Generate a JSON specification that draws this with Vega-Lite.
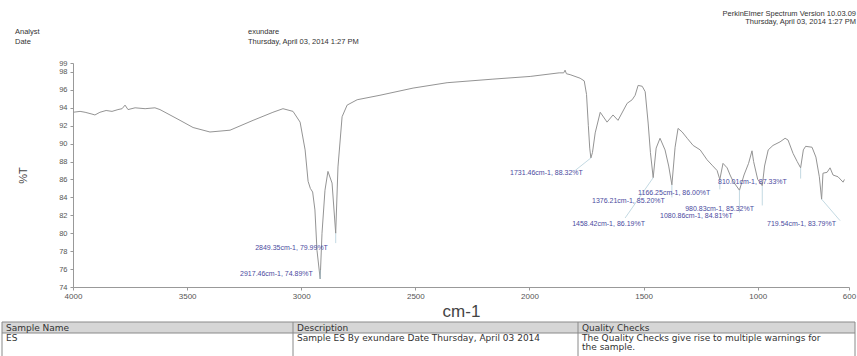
{
  "$schema": "https://vega.github.io/schema/vega-lite/v6.json",
  "width": 776,
  "height": 224,
  "autosize": {"type": "none"},
  "padding": {"left": 73, "top": 63, "right": 8, "bottom": 69},
  "background": "white",
  "config": {"view": {"stroke": null}, "font": "Liberation Sans", "axis": {"labelOverlap": false, "labelFlush": false}},
  "datasets": {
    "spectrum": [
      {"wn": 4000, "t": 93.5}, {"wn": 3969, "t": 93.6}, {"wn": 3947, "t": 93.5}, {"wn": 3917, "t": 93.3},
      {"wn": 3904, "t": 93.2}, {"wn": 3882, "t": 93.5}, {"wn": 3855, "t": 93.7}, {"wn": 3829, "t": 93.6},
      {"wn": 3803, "t": 93.8}, {"wn": 3785, "t": 93.9}, {"wn": 3772, "t": 94.3}, {"wn": 3759, "t": 93.8},
      {"wn": 3728, "t": 94.0}, {"wn": 3684, "t": 93.9}, {"wn": 3641, "t": 94.0}, {"wn": 3619, "t": 93.8},
      {"wn": 3575, "t": 93.2}, {"wn": 3531, "t": 92.6}, {"wn": 3474, "t": 91.8}, {"wn": 3400, "t": 91.3},
      {"wn": 3312, "t": 91.5}, {"wn": 3211, "t": 92.6}, {"wn": 3124, "t": 93.5}, {"wn": 3080, "t": 93.9},
      {"wn": 3036, "t": 93.6}, {"wn": 3005, "t": 92.4}, {"wn": 2983, "t": 89.3}, {"wn": 2970, "t": 85.8},
      {"wn": 2960, "t": 85.0}, {"wn": 2950, "t": 84.6}, {"wn": 2940, "t": 82.6}, {"wn": 2931, "t": 78.1},
      {"wn": 2917, "t": 74.9}, {"wn": 2909, "t": 80.0}, {"wn": 2896, "t": 84.8}, {"wn": 2883, "t": 86.9},
      {"wn": 2865, "t": 85.6}, {"wn": 2849, "t": 80.0}, {"wn": 2839, "t": 87.4}, {"wn": 2821, "t": 93.0},
      {"wn": 2799, "t": 94.3}, {"wn": 2755, "t": 94.9}, {"wn": 2655, "t": 95.4}, {"wn": 2510, "t": 96.2},
      {"wn": 2361, "t": 96.8}, {"wn": 2160, "t": 97.2}, {"wn": 1997, "t": 97.5}, {"wn": 1870, "t": 97.9},
      {"wn": 1850, "t": 97.9}, {"wn": 1844, "t": 98.2}, {"wn": 1838, "t": 97.8}, {"wn": 1822, "t": 97.7},
      {"wn": 1778, "t": 97.3}, {"wn": 1760, "t": 97.0}, {"wn": 1750, "t": 95.5}, {"wn": 1742, "t": 92.0},
      {"wn": 1736, "t": 89.5}, {"wn": 1731, "t": 88.4}, {"wn": 1724, "t": 89.0}, {"wn": 1712, "t": 91.2},
      {"wn": 1690, "t": 93.5}, {"wn": 1660, "t": 92.4}, {"wn": 1634, "t": 93.2}, {"wn": 1612, "t": 92.6},
      {"wn": 1572, "t": 94.5}, {"wn": 1550, "t": 94.9}, {"wn": 1537, "t": 95.4}, {"wn": 1524, "t": 96.5},
      {"wn": 1506, "t": 96.4}, {"wn": 1493, "t": 95.8}, {"wn": 1480, "t": 92.3}, {"wn": 1470, "t": 89.0},
      {"wn": 1458, "t": 86.2}, {"wn": 1445, "t": 89.5}, {"wn": 1428, "t": 90.6}, {"wn": 1406, "t": 89.3},
      {"wn": 1390, "t": 87.5}, {"wn": 1376, "t": 85.4}, {"wn": 1362, "t": 89.6}, {"wn": 1349, "t": 91.7},
      {"wn": 1331, "t": 91.3}, {"wn": 1309, "t": 90.6}, {"wn": 1283, "t": 89.8}, {"wn": 1252, "t": 89.3},
      {"wn": 1222, "t": 88.2}, {"wn": 1200, "t": 87.6}, {"wn": 1178, "t": 87.0}, {"wn": 1166, "t": 86.0},
      {"wn": 1152, "t": 87.8}, {"wn": 1134, "t": 87.3}, {"wn": 1121, "t": 86.5}, {"wn": 1108, "t": 85.8},
      {"wn": 1080, "t": 84.8}, {"wn": 1060, "t": 86.5}, {"wn": 1040, "t": 87.8}, {"wn": 1025, "t": 89.2},
      {"wn": 1018, "t": 88.0}, {"wn": 1000, "t": 86.0}, {"wn": 980, "t": 85.3}, {"wn": 970, "t": 87.5},
      {"wn": 954, "t": 89.3}, {"wn": 933, "t": 89.8}, {"wn": 902, "t": 90.2}, {"wn": 880, "t": 90.6},
      {"wn": 867, "t": 90.4}, {"wn": 845, "t": 88.9}, {"wn": 827, "t": 88.0}, {"wn": 812, "t": 87.3},
      {"wn": 800, "t": 89.3}, {"wn": 790, "t": 89.7}, {"wn": 762, "t": 89.6}, {"wn": 745, "t": 88.5},
      {"wn": 730, "t": 86.3}, {"wn": 720, "t": 83.8}, {"wn": 714, "t": 86.7}, {"wn": 696, "t": 86.8},
      {"wn": 683, "t": 87.3}, {"wn": 670, "t": 86.5}, {"wn": 648, "t": 86.3}, {"wn": 626, "t": 85.7},
      {"wn": 620, "t": 86.0}
    ],
    "peaks": [
      {"wn": 2917, "t": 74.9, "awn": 2917, "at": 75.9, "lwn": 3268, "lt": 75.4, "label": "2917.46cm-1, 74.89%T"},
      {"wn": 2849, "t": 80.0, "awn": 2849, "at": 78.9, "lwn": 3202, "lt": 78.4, "label": "2849.35cm-1, 79.99%T"},
      {"wn": 1731, "t": 88.4, "awn": 1800, "at": 87.0, "lwn": 2085, "lt": 86.7, "label": "1731.46cm-1, 88.32%T"},
      {"wn": 1458, "t": 86.2, "awn": 1581, "at": 81.7, "lwn": 1813, "lt": 81.0, "label": "1458.42cm-1, 86.19%T"},
      {"wn": 1376, "t": 85.4, "awn": 1376, "at": 84.0, "lwn": 1726, "lt": 83.6, "label": "1376.21cm-1, 85.20%T"},
      {"wn": 1166, "t": 86.0, "awn": 1166, "at": 84.9, "lwn": 1524, "lt": 84.5, "label": "1166.25cm-1, 86.00%T"},
      {"wn": 1080, "t": 84.8, "awn": 1080, "at": 82.3, "lwn": 1428, "lt": 81.9, "label": "1080.86cm-1, 84.81%T"},
      {"wn": 980, "t": 85.3, "awn": 980, "at": 83.1, "lwn": 1318, "lt": 82.7, "label": "980.83cm-1, 85.32%T"},
      {"wn": 812, "t": 87.3, "awn": 812, "at": 86.1, "lwn": 1174, "lt": 85.7, "label": "810.01cm-1, 87.33%T"},
      {"wn": 720, "t": 83.8, "awn": 639, "at": 81.4, "lwn": 959, "lt": 81.0, "label": "719.54cm-1, 83.79%T"}
    ],
    "page": [
      {"kind": "fill", "c0": 0, "c1": 8, "r0": 4, "r1": 6},
      {"kind": "line", "c0": 0, "c1": 8, "r0": 4, "r1": 4},
      {"kind": "line", "c0": 0, "c1": 8, "r0": 6, "r1": 6},
      {"kind": "line", "c0": 0, "c1": 0, "r0": 4, "r1": 9},
      {"kind": "line", "c0": 4, "c1": 4, "r0": 4, "r1": 9},
      {"kind": "line", "c0": 6, "c1": 6, "r0": 4, "r1": 9},
      {"kind": "line", "c0": 8, "c1": 8, "r0": 4, "r1": 9},
      {"kind": "head", "c0": 2, "r0": 2, "text": "Analyst"},
      {"kind": "head", "c0": 2, "r0": 3, "text": "Date"},
      {"kind": "head", "c0": 3, "r0": 2, "text": "exundare"},
      {"kind": "head", "c0": 3, "r0": 3, "text": "Thursday, April 03, 2014 1:27 PM"},
      {"kind": "rtext", "c0": 9, "r0": 0, "text": "PerkinElmer Spectrum Version 10.03.09"},
      {"kind": "rtext", "c0": 9, "r0": 1, "text": "Thursday, April 03, 2014 1:27 PM"},
      {"kind": "text", "c0": 1, "r0": 5, "text": "Sample Name"},
      {"kind": "text", "c0": 5, "r0": 5, "text": "Description"},
      {"kind": "text", "c0": 7, "r0": 5, "text": "Quality Checks"},
      {"kind": "text", "c0": 1, "r0": 7, "text": "ES"},
      {"kind": "text", "c0": 5, "r0": 7, "text": "Sample ES By exundare Date Thursday, April 03 2014"},
      {"kind": "text", "c0": 7, "r0": 7, "text": "The Quality Checks give rise to multiple warnings for"},
      {"kind": "text", "c0": 7, "r0": 8, "text": "the sample."}
    ]
  },
  "layer": [
    {
      "layer": [
        {
          "data": {"name": "spectrum"},
          "mark": {"type": "line", "color": "#949494", "strokeWidth": 1, "clip": true},
          "encoding": {
            "x": {
              "field": "wn", "type": "quantitative",
              "scale": {"domain": [600, 4000], "reverse": true, "nice": false, "zero": false},
              "axis": {
                "values": [4000, 3500, 3000, 2500, 2000, 1500, 1000, 600], "tickCount": 40,
                "format": "d", "title": "cm-1", "titleFontSize": 17, "titleFontWeight": "normal",
                "titleColor": "#444", "titlePadding": 3, "labelFontSize": 8, "labelColor": "#555",
                "labelFlush": false, "labelOverlap": false, "labelPadding": 2,
                "domainColor": "#999", "tickColor": "#999", "tickSize": 3, "grid": false
              }
            },
            "y": {
              "field": "t", "type": "quantitative",
              "scale": {"domain": [74, 99], "nice": false, "zero": false},
              "axis": {
                "values": [74, 76, 78, 80, 82, 84, 86, 88, 90, 92, 94, 96, 98, 99], "tickCount": 40,
                "format": "d",
                "title": "%T", "titleFontSize": 11, "titleFontWeight": "normal", "titleColor": "#444",
                "titlePadding": 30, "labelFontSize": 7.5, "labelColor": "#555", "labelOverlap": false,
                "labelFlush": false, "labelPadding": 3,
                "domainColor": "#999", "tickColor": "#999", "tickSize": 3, "grid": false
              }
            }
          }
        },
        {
          "data": {"name": "peaks"},
          "mark": {"type": "rule", "color": "#a9c9d6", "strokeWidth": 0.7},
          "encoding": {
            "x": {"field": "wn", "type": "quantitative"},
            "y": {"field": "t", "type": "quantitative"},
            "x2": {"field": "awn"},
            "y2": {"field": "at"}
          }
        },
        {
          "data": {"name": "peaks"},
          "mark": {"type": "text", "align": "left", "baseline": "middle", "fontSize": 7, "color": "#4b4ba0"},
          "encoding": {
            "x": {"field": "lwn", "type": "quantitative"},
            "y": {"field": "lt", "type": "quantitative"},
            "text": {"field": "label"}
          }
        }
      ]
    },
    {
      "data": {"name": "page"},
      "layer": [
        {
          "transform": [{"filter": "datum.kind === 'fill'"}],
          "mark": {"type": "rect", "color": "#d6d6d6"},
          "encoding": {
            "x": {"field": "c0", "type": "quantitative", "axis": null,
              "scale": {"domain": [0, 1, 2, 3, 4, 5, 6, 7, 8, 9], "range": [-71, -67, -58, 175, 220, 224, 505, 509, 782, 783], "nice": false, "zero": false}},
            "x2": {"field": "c1"},
            "y": {"field": "r0", "type": "quantitative", "axis": null,
              "scale": {"domain": [0, 1, 2, 3, 4, 5, 6, 7, 8, 9], "range": [-49, -41, -31, -21, 259, 264.5, 270, 274.5, 284, 293], "nice": false, "zero": false}},
            "y2": {"field": "r1"}
          }
        },
        {
          "transform": [{"filter": "datum.kind === 'line'"}],
          "mark": {"type": "rule", "color": "#8a8a8a", "strokeWidth": 1},
          "encoding": {
            "x": {"field": "c0", "type": "quantitative", "axis": null},
            "x2": {"field": "c1"},
            "y": {"field": "r0", "type": "quantitative", "axis": null},
            "y2": {"field": "r1"}
          }
        },
        {
          "transform": [{"filter": "datum.kind === 'text'"}],
          "mark": {"type": "text", "align": "left", "baseline": "middle", "fontSize": 9, "font": "DejaVu Sans", "color": "#333"},
          "encoding": {
            "x": {"field": "c0", "type": "quantitative", "axis": null},
            "y": {"field": "r0", "type": "quantitative", "axis": null},
            "text": {"field": "text"}
          }
        },
        {
          "transform": [{"filter": "datum.kind === 'head'"}],
          "mark": {"type": "text", "align": "left", "baseline": "middle", "fontSize": 7.5, "color": "#333"},
          "encoding": {
            "x": {"field": "c0", "type": "quantitative", "axis": null},
            "y": {"field": "r0", "type": "quantitative", "axis": null},
            "text": {"field": "text"}
          }
        },
        {
          "transform": [{"filter": "datum.kind === 'rtext'"}],
          "mark": {"type": "text", "align": "right", "baseline": "middle", "fontSize": 7.5, "color": "#333"},
          "encoding": {
            "x": {"field": "c0", "type": "quantitative", "axis": null},
            "y": {"field": "r0", "type": "quantitative", "axis": null},
            "text": {"field": "text"}
          }
        }
      ]
    }
  ],
  "resolve": {"scale": {"x": "independent", "y": "independent"}}
}
